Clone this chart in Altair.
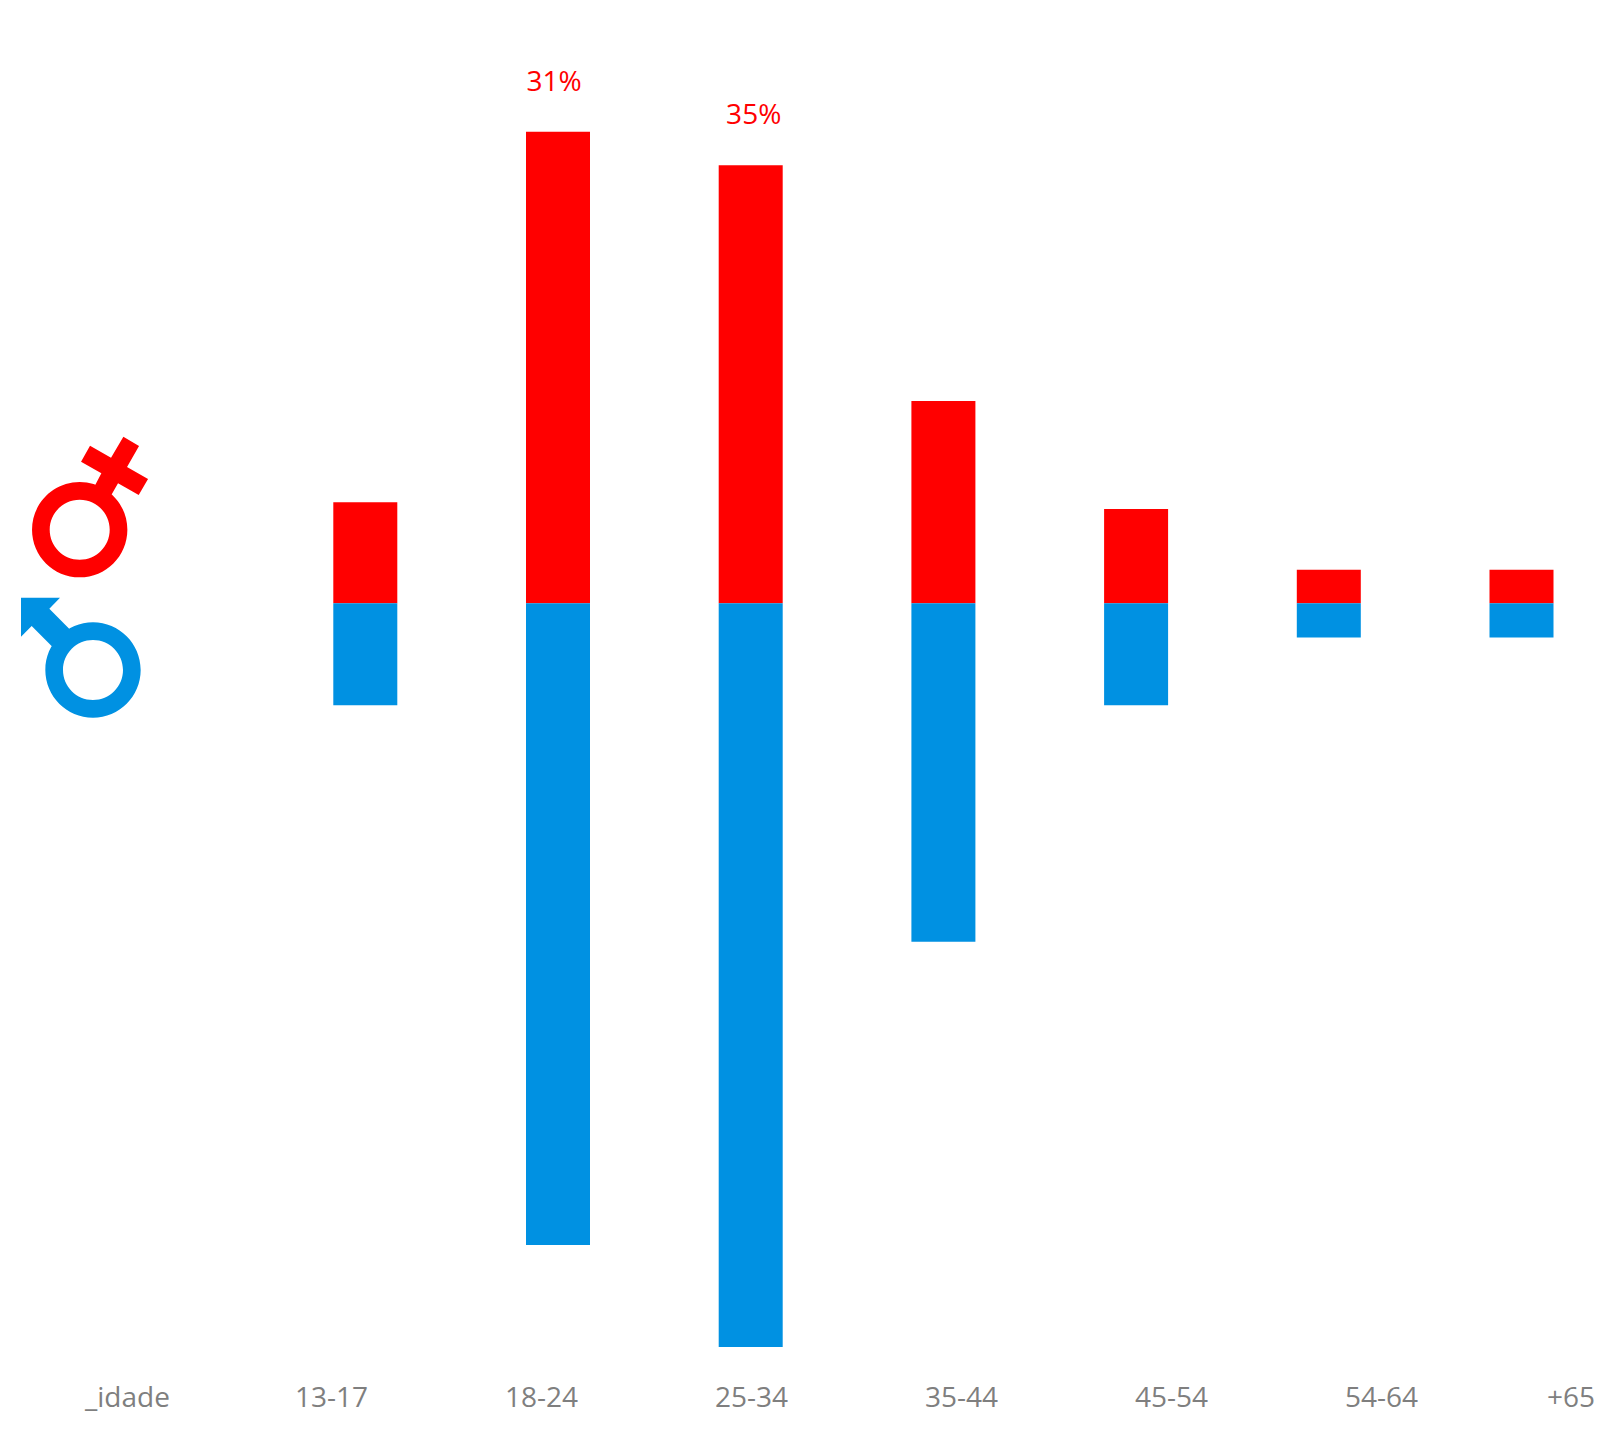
import altair as alt
import pandas as pd

categories = ["_idade", "13-17", "18-24", "25-34", "35-44", "45-54", "54-64", "+65"]
bar_categories = categories[1:]
female = [6.65, 31.0, 28.8, 13.3, 6.2, 2.2, 2.2]
male = [6.7, 42.2, 48.9, 22.25, 6.7, 2.25, 2.25]
callout_categories = ["18-24", "25-34"]
callout_values = [31.0, 28.8]
callout_texts = ["31%", "35%"]

RED = "#FF0000"
BLUE = "#0091E2"
GREY = "#7F7F7F"
FONT = "Open Sans"
FS = 28

def symbol_path(points, cx, cy, r_out=143, r_in=90):
    """Glyph outline in zoomed units, centred on the ring, scaled to px."""
    poly = "M" + "L".join(f"{(x-cx)/3:.2f},{(y-cy)/3:.2f}" for x, y in points) + "Z"
    ro, ri = r_out / 3, r_in / 3
    outer = f"M{-ro:.2f},0A{ro:.2f},{ro:.2f} 0 1 1 {ro:.2f},0A{ro:.2f},{ro:.2f} 0 1 1 {-ro:.2f},0Z"
    inner = f"M{-ri:.2f},0A{ri:.2f},{ri:.2f} 0 1 0 {ri:.2f},0A{ri:.2f},{ri:.2f} 0 1 0 {-ri:.2f},0Z"
    return poly + outer + inner

venus = symbol_path(
    [(243, 125), (270, 77), (333, 113), (370, 50), (417, 78), (381, 141), (444, 177),
     (416, 225), (354, 190), (330, 232), (282, 202), (304, 160)], 239, 329)
mars = symbol_path(
    [(63, 533), (180, 533), (148, 566), (215, 634), (163, 686), (95, 618), (63, 650)], 279, 750)

df = pd.DataFrame({
    "idade": bar_categories * 2,
    "valor": female + [-v for v in male],
    "sexo": ["F"] * len(female) + ["M"] * len(male),
})
x_bar = alt.X("idade:N", axis=None, sort=categories,
              scale=alt.Scale(domain=categories, range=[68.25, 1609.85], paddingInner=0, paddingOuter=0))
y_bar = alt.Y("valor:Q", axis=None, stack=None,
              scale=alt.Scale(domain=[-53.97, 39.145], range=[1416, 0], nice=False, zero=False))

bars = alt.Chart(df).mark_bar(size=64).encode(
    x=x_bar, y=y_bar,
    y2=alt.datum(0),
    color=alt.Color("sexo:N", legend=None, scale=alt.Scale(domain=["F", "M"], range=[RED, BLUE])),
)

def callout(i, dx):
    d = pd.DataFrame({"idade": [callout_categories[i]], "valor": [callout_values[i]], "t": [callout_texts[i]]})
    return alt.Chart(d).mark_text(font=FONT, fontSize=FS, color=RED, baseline="alphabetic", dx=dx, dy=-41).encode(
        x=x_bar, y=y_bar, text="t:N")

x_label = alt.X("idade:N", axis=None, sort=categories,
                scale=alt.Scale(type="point", domain=categories, range=[77, 1547], padding=0))

def label_layer(names, dx=0):
    return alt.Chart(pd.DataFrame({"idade": names})).mark_text(
        font=FONT, fontSize=FS, color=GREY, align="left", baseline="alphabetic", dx=dx
    ).encode(x=x_label, y=alt.value(1399), text="idade:N")

def glyph(path, color, x, y):
    return alt.Chart(pd.DataFrame({"g": [path]})).mark_point(
        shape=path, size=4, filled=True, opacity=1, color=color, strokeWidth=0
    ).encode(x=alt.value(x), y=alt.value(y))

chart = alt.layer(
    bars, callout(0, -4), callout(1, 3),
    label_layer(categories[:-1]), label_layer(categories[-1:], dx=-8),
    glyph(venus, RED, 71.7, 521.7), glyph(mars, BLUE, 85, 662),
).resolve_scale(x="independent").properties(
    width=1587, height=1416, padding=0,
    autosize=alt.AutoSizeParams(type="none"),
).configure_view(stroke=None)

chart.save("out.html", embed_options={"renderer": "svg", "actions": False})
